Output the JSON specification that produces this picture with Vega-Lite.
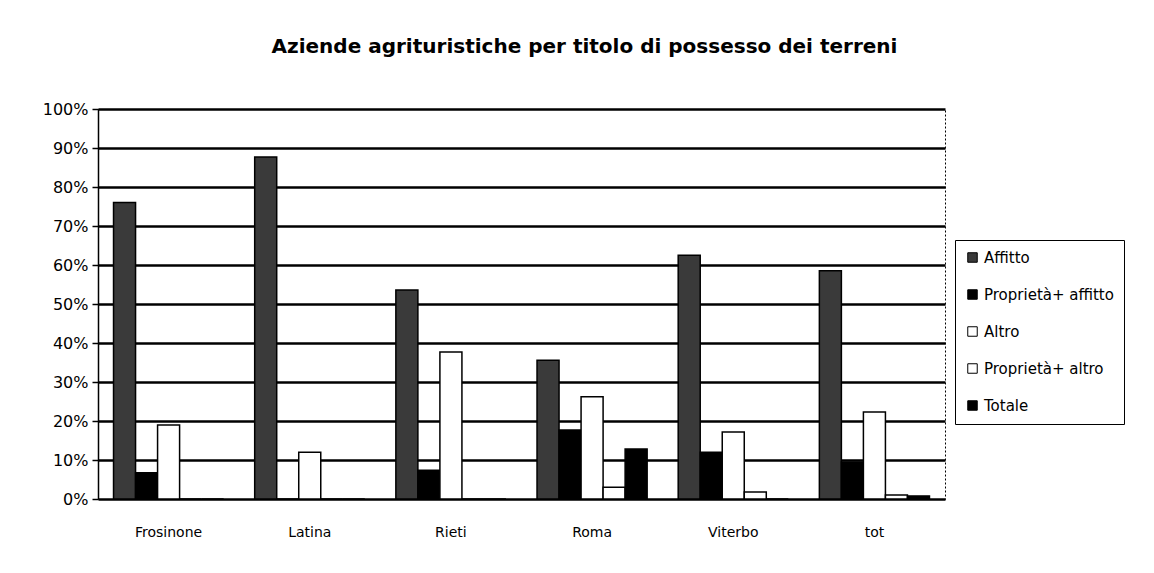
{
  "$schema": "https://vega.github.io/schema/vega-lite/v6.json",
  "width": 847,
  "height": 390,
  "autosize": {"type": "none"},
  "padding": {"left": 98, "top": 109, "right": 209, "bottom": 74},
  "background": "#ffffff",
  "title": {
    "text": "Aziende agrituristiche per titolo di possesso dei terreni",
    "font": "DejaVu Sans",
    "fontSize": 20,
    "fontWeight": "bold",
    "color": "#000",
    "anchor": "middle",
    "dx": 63,
    "offset": 44
  },
  "data": {
    "values": [
      {"provincia": "Frosinone", "titolo": "Affitto", "valore": 0.76},
      {"provincia": "Frosinone", "titolo": "Proprietà+ affitto", "valore": 0.067},
      {"provincia": "Frosinone", "titolo": "Altro", "valore": 0.19},
      {"provincia": "Frosinone", "titolo": "Proprietà+ altro", "valore": 0},
      {"provincia": "Frosinone", "titolo": "Totale", "valore": 0},
      {"provincia": "Latina", "titolo": "Affitto", "valore": 0.877},
      {"provincia": "Latina", "titolo": "Proprietà+ affitto", "valore": 0},
      {"provincia": "Latina", "titolo": "Altro", "valore": 0.12},
      {"provincia": "Latina", "titolo": "Proprietà+ altro", "valore": 0},
      {"provincia": "Latina", "titolo": "Totale", "valore": 0},
      {"provincia": "Rieti", "titolo": "Affitto", "valore": 0.536},
      {"provincia": "Rieti", "titolo": "Proprietà+ affitto", "valore": 0.074},
      {"provincia": "Rieti", "titolo": "Altro", "valore": 0.377},
      {"provincia": "Rieti", "titolo": "Proprietà+ altro", "valore": 0},
      {"provincia": "Rieti", "titolo": "Totale", "valore": 0},
      {"provincia": "Roma", "titolo": "Affitto", "valore": 0.356},
      {"provincia": "Roma", "titolo": "Proprietà+ affitto", "valore": 0.177},
      {"provincia": "Roma", "titolo": "Altro", "valore": 0.262},
      {"provincia": "Roma", "titolo": "Proprietà+ altro", "valore": 0.03},
      {"provincia": "Roma", "titolo": "Totale", "valore": 0.128},
      {"provincia": "Viterbo", "titolo": "Affitto", "valore": 0.625},
      {"provincia": "Viterbo", "titolo": "Proprietà+ affitto", "valore": 0.12},
      {"provincia": "Viterbo", "titolo": "Altro", "valore": 0.172},
      {"provincia": "Viterbo", "titolo": "Proprietà+ altro", "valore": 0.018},
      {"provincia": "Viterbo", "titolo": "Totale", "valore": 0},
      {"provincia": "tot", "titolo": "Affitto", "valore": 0.585},
      {"provincia": "tot", "titolo": "Proprietà+ affitto", "valore": 0.095},
      {"provincia": "tot", "titolo": "Altro", "valore": 0.223},
      {"provincia": "tot", "titolo": "Proprietà+ altro", "valore": 0.01},
      {"provincia": "tot", "titolo": "Totale", "valore": 0.008}
    ]
  },
  "mark": {"type": "bar", "stroke": "#000", "strokeWidth": 1.5},
  "encoding": {
    "x": {
      "field": "provincia",
      "type": "nominal",
      "sort": ["Frosinone", "Latina", "Rieti", "Roma", "Viterbo", "tot"],
      "scale": {"paddingInner": 0.22, "paddingOuter": 0.11},
      "axis": {
        "title": null,
        "labelAngle": 0,
        "ticks": false,
        "domain": false,
        "labelPadding": 26,
        "labelFont": "DejaVu Sans",
        "labelFontSize": 14,
        "labelColor": "#000"
      }
    },
    "xOffset": {
      "field": "titolo",
      "type": "nominal",
      "scale": {"domain": ["Affitto", "Proprietà+ affitto", "Altro", "Proprietà+ altro", "Totale"], "paddingInner": 0, "paddingOuter": 0}
    },
    "y": {
      "field": "valore",
      "type": "quantitative",
      "scale": {"domain": [0, 1], "nice": false},
      "axis": {
        "title": null,
        "format": ".0%",
        "values": [0, 0.1, 0.2, 0.3, 0.4, 0.5, 0.6, 0.7, 0.8, 0.9, 1],
        "grid": true,
        "gridColor": "#000",
        "gridWidth": 2.5,
        "gridOpacity": 1,
        "domainColor": "#000",
        "domainWidth": 1.5,
        "tickColor": "#000",
        "tickSize": 6,
        "tickWidth": 1.5,
        "labelPadding": 4,
        "labelFont": "DejaVu Sans",
        "labelFontSize": 16,
        "labelColor": "#000"
      }
    },
    "fill": {
      "field": "titolo",
      "type": "nominal",
      "scale": {
        "domain": ["Affitto", "Proprietà+ affitto", "Altro", "Proprietà+ altro", "Totale"],
        "range": ["#3a3a3a", "#000000", "#ffffff", "#ffffff", "#000000"]
      },
      "legend": {
        "title": null,
        "orient": "none",
        "legendX": 857,
        "legendY": 131,
        "symbolType": "square",
        "symbolSize": 90,
        "symbolStrokeColor": "#000",
        "symbolStrokeWidth": 1,
        "labelFont": "DejaVu Sans",
        "labelFontSize": 15,
        "labelColor": "#000",
        "labelLimit": 200,
        "rowPadding": 21,
        "padding": 10,
        "strokeColor": "#000",
        "fillColor": "#fff"
      }
    }
  },
  "config": {
    "view": {"stroke": "#000", "strokeDash": [2, 2], "strokeWidth": 1}
  }
}
